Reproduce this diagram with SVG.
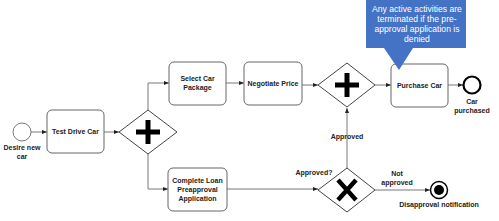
<svg xmlns="http://www.w3.org/2000/svg" width="499" height="221" viewBox="0 0 499 221">
<style>
.task{fill:#fff;stroke:#666;stroke-width:1}
.gw{fill:#fff;stroke:#444;stroke-width:1}
.t{font-family:"Liberation Sans",Arial,sans-serif;font-size:7px;font-weight:bold;fill:#222;text-anchor:middle}
.c{fill:none;stroke:#555;stroke-width:0.8}
.w{font-family:"Liberation Sans",Arial,sans-serif;font-size:8.6px;fill:#fff;text-anchor:middle}
</style>
<defs>
<marker id="a" viewBox="0 0 10 10" refX="10" refY="5" markerWidth="5" markerHeight="5" orient="auto" markerUnits="userSpaceOnUse"><path d="M0,1 L10,5 L0,9 z" fill="#222"/></marker>
</defs>
<rect width="499" height="221" fill="#fff"/>
<g id="connectors">
<path class="c" d="M31,132 H47" marker-end="url(#a)"/>
<path class="c" d="M104,132 H119" marker-end="url(#a)"/>
<path class="c" d="M148,110 V83 H169" marker-end="url(#a)"/>
<path class="c" d="M148,154 V189 H168" marker-end="url(#a)"/>
<path class="c" d="M226,83 H244" marker-end="url(#a)"/>
<path class="c" d="M302,85 H318" marker-end="url(#a)"/>
<path class="c" d="M375,85 H391" marker-end="url(#a)"/>
<path class="c" d="M448,85 H463" marker-end="url(#a)"/>
<path class="c" d="M227,189 H318" marker-end="url(#a)"/>
<path class="c" d="M347,168 V108" marker-end="url(#a)"/>
<path class="c" d="M375,190 H430" marker-end="url(#a)"/>
<text class="t" x="314" y="175">Approved?</text>
<text class="t" x="347" y="139">Approved</text>
<text class="t" x="397" y="176">Not</text>
<text class="t" x="397" y="185">approved</text>
</g>
<g id="start">
<circle cx="22" cy="132" r="9" fill="#fff" stroke="#555" stroke-width="0.8"/>
<text class="t" x="22" y="150">Desire new</text>
<text class="t" x="22" y="159">car</text>
</g>
<g id="testdrive">
<rect class="task" x="47" y="110" width="57" height="43" rx="5"/>
<text class="t" x="75.5" y="134">Test Drive Car</text>
</g>
<g id="fork">
<path class="gw" d="M148,110 L177,132 L148,154 L119,132 Z"/>
<path d="M148,120 V144 M136,132 H160" stroke="#000" stroke-width="5"/>
</g>
<g id="select">
<rect class="task" x="169" y="62" width="57" height="43" rx="5"/>
<text class="t" x="197.5" y="81">Select Car</text>
<text class="t" x="197.5" y="90">Package</text>
</g>
<g id="negotiate">
<rect class="task" x="244" y="62" width="58" height="43" rx="5"/>
<text class="t" x="273" y="86">Negotiate Price</text>
</g>
<g id="join">
<path class="gw" d="M347,63 L375,85 L347,107 L318,85 Z"/>
<path d="M347,73 V97 M335,85 H359" stroke="#000" stroke-width="5"/>
</g>
<g id="purchase">
<rect class="task" x="391" y="64" width="57" height="43" rx="5"/>
<text class="t" x="419.5" y="88">Purchase Car</text>
</g>
<g id="end">
<circle cx="472" cy="85" r="8.5" fill="#fff" stroke="#000" stroke-width="2.2"/>
<text class="t" x="472" y="104">Car</text>
<text class="t" x="472" y="113">purchased</text>
</g>
<g id="loan">
<rect class="task" x="168" y="168" width="59" height="43" rx="5"/>
<text class="t" x="197.5" y="183">Complete Loan</text>
<text class="t" x="197.5" y="192">Preapproval</text>
<text class="t" x="197.5" y="201">Application</text>
</g>
<g id="xor">
<path class="gw" d="M347,168 L375,190 L347,212 L318,190 Z"/>
<path d="M338,180 L356,200 M356,180 L338,200" stroke="#000" stroke-width="4.5"/>
</g>
<g id="terminate">
<circle cx="439" cy="190" r="8.5" fill="#fff" stroke="#000" stroke-width="1.5"/>
<circle cx="439" cy="190" r="5" fill="#000"/>
<text class="t" x="439" y="207">Disapproval notification</text>
</g>
<g id="callout">
<path d="M366,0 H466 V48 H413 L399,70 L384,48 H366 Z" fill="#4472C4"/>
<text class="w" x="417" y="12">Any active activities are</text>
<text class="w" x="417" y="22">terminated if the pre-</text>
<text class="w" x="417" y="32">approval application is</text>
<text class="w" x="417" y="42">denied</text>
</g>
</svg>
